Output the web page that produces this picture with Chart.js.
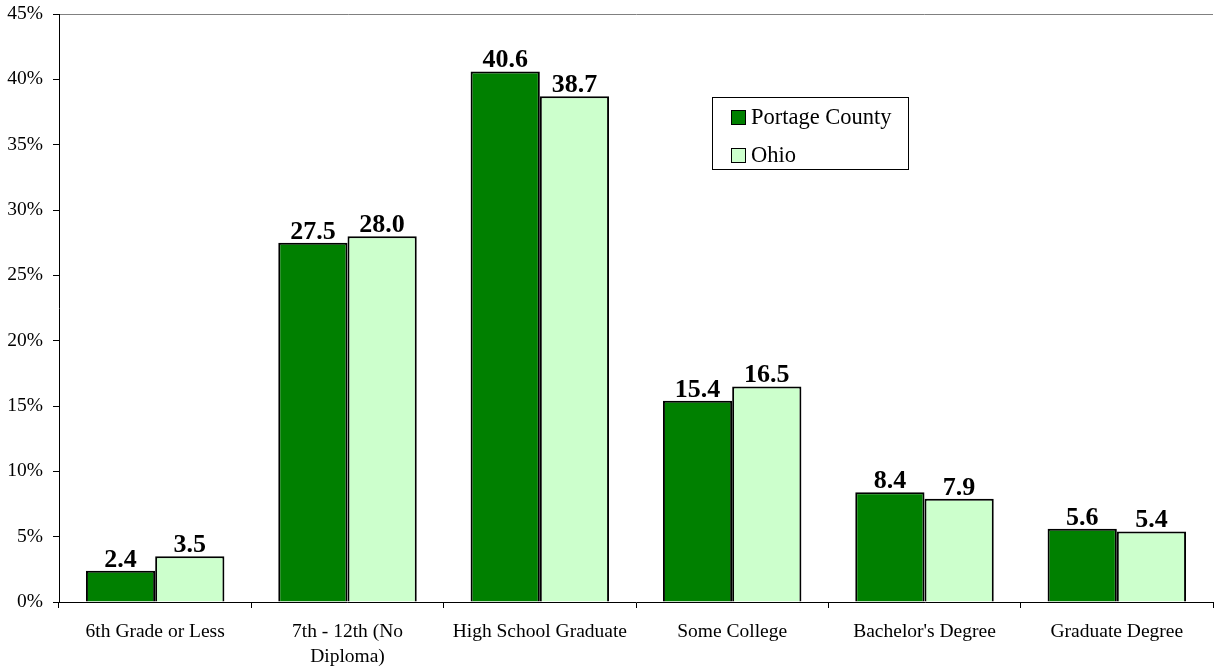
<!DOCTYPE html>
<html>
<head>
<meta charset="utf-8">
<script src="https://cdn.jsdelivr.net/npm/chart.js@4.4.0/dist/chart.umd.min.js"></script>
<style>
html,body{margin:0;padding:0;background:#fff;}
#wrap{width:1214px;height:671px;position:relative;}
</style>
</head>
<body>
<div id="wrap"><canvas id="c" width="1214" height="671"></canvas></div>
<script>
const categories = ["6th Grade or Less", ["7th - 12th (No", "Diploma)"], "High School Graduate", "Some College", "Bachelor's Degree", "Graduate Degree"];
const portageValues = [2.4, 27.5, 40.6, 15.4, 8.4, 5.6];
const ohioValues = [3.5, 28.0, 38.7, 16.5, 7.9, 5.4];
const seriesNames = ["Portage County", "Ohio"];
const yTicks = [0, 5, 10, 15, 20, 25, 30, 35, 40, 45];

const SERIF = '"Liberation Serif", "Times New Roman", serif';
const DARK = '#008000';
const LIGHT = '#CCFFCC';

const valueLabels = {
  id: 'valueLabels',
  afterDatasetsDraw(chart) {
    const ctx = chart.ctx;
    ctx.save();
    ctx.font = 'bold 26px ' + SERIF;
    ctx.fillStyle = '#000';
    ctx.textAlign = 'center';
    ctx.textBaseline = 'alphabetic';
    chart.data.datasets.forEach((ds, i) => {
      const meta = chart.getDatasetMeta(i);
      meta.data.forEach((bar, j) => {
        ctx.fillText(ds.data[j].toFixed(1), bar.x, bar.y - 4);
      });
    });
    ctx.restore();
  }
};

const boxLegend = {
  id: 'boxLegend',
  afterDraw(chart) {
    const ctx = chart.ctx;
    const x = 712, y = 97, w = 196, h = 72;
    ctx.save();
    ctx.strokeStyle = '#000';
    ctx.lineWidth = 1;
    ctx.fillStyle = '#fff';
    ctx.fillRect(x, y, w, h);
    ctx.strokeRect(x + 0.5, y + 0.5, w, h);
    ctx.font = '22.5px ' + SERIF;
    ctx.textBaseline = 'middle';
    ctx.textAlign = 'left';
    const rows = [[DARK, seriesNames[0], 117], [LIGHT, seriesNames[1], 155]];
    rows.forEach(r => {
      ctx.fillStyle = r[0];
      ctx.fillRect(731, r[2] - 7, 14, 14);
      ctx.strokeRect(731.5, r[2] - 6.5, 14, 14);
      ctx.fillStyle = '#000';
      ctx.fillText(r[1], 751, r[2] + 1);
    });
    ctx.restore();
  }
};

new Chart(document.getElementById('c'), {
  type: 'bar',
  data: {
    labels: categories,
    datasets: [
      { label: seriesNames[0], data: portageValues, backgroundColor: DARK, borderColor: '#000', borderWidth: 2 },
      { label: seriesNames[1], data: ohioValues, backgroundColor: LIGHT, borderColor: '#000', borderWidth: 2 }
    ]
  },
  options: {
    responsive: false,
    animation: false,
    devicePixelRatio: 1,
    layout: { padding: { top: 0, right: 1, left: 7, bottom: 0 } },
    datasets: { bar: { categoryPercentage: 0.72, barPercentage: 1.0 } },
    plugins: { legend: { display: false }, tooltip: { enabled: false } },
    scales: {
      x: {
        afterFit(axis) { axis.height = 69; axis.paddingLeft = 0; axis.paddingRight = 0; },
        grid: { display: true, offset: true, color: 'transparent', tickColor: '#000', tickLength: 6, drawOnChartArea: false },
        border: { display: true, color: '#000', width: 1 },
        ticks: { color: '#000', font: { family: SERIF, size: 19.5, lineHeight: 1.25 }, maxRotation: 0, autoSkip: false, padding: 12 }
      },
      y: {
        min: 0, max: 45,
        afterBuildTicks(axis) { axis.ticks = yTicks.map(v => ({ value: v })); },
        afterFit(axis) { axis.width = 52; axis.paddingTop = 14; axis.paddingBottom = 0; },
        grid: {
          color: c => (c.tick && c.tick.value === 45) ? '#808080' : 'transparent',
          tickColor: '#000', tickLength: 6
        },
        border: { display: true, color: '#000', width: 1 },
        ticks: { color: '#000', font: { family: SERIF, size: 19.5 }, padding: 10, callback: v => v + '%' }
      }
    }
  },
  plugins: [valueLabels, boxLegend]
});
</script>
</body>
</html>
